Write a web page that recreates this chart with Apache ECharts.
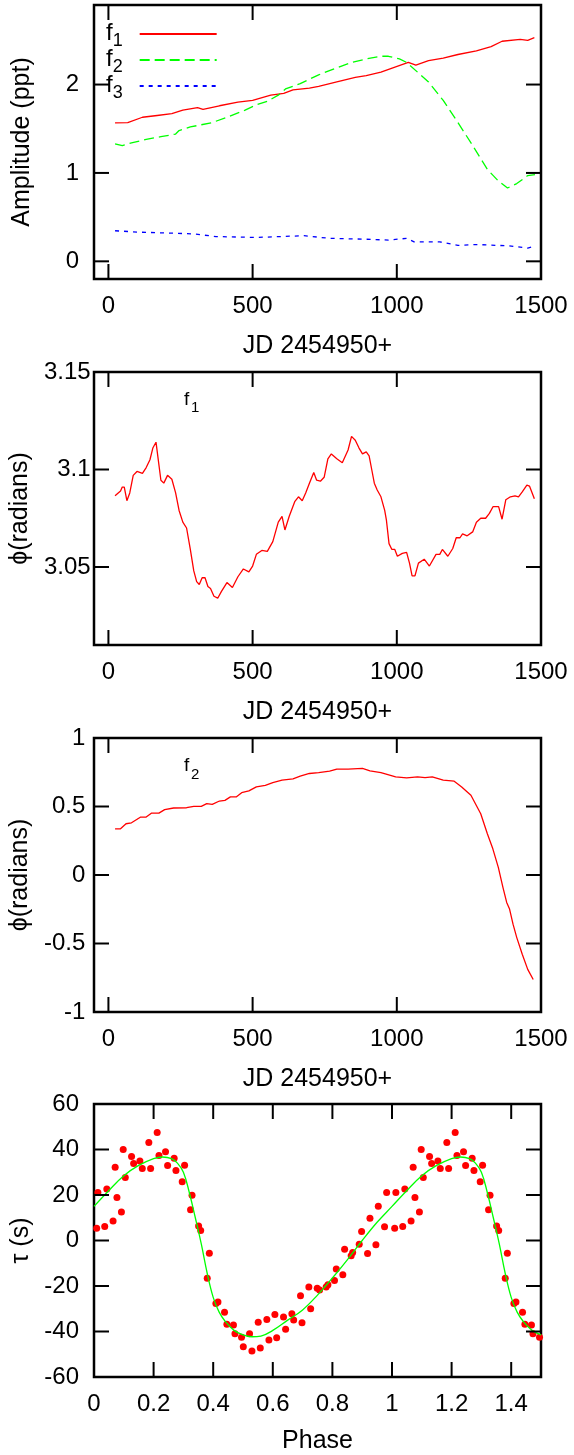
<!DOCTYPE html>
<html>
<head>
<meta charset="utf-8">
<script src="https://cdn.jsdelivr.net/npm/echarts@6/dist/echarts.min.js"></script>
<style>
  html, body { margin: 0; padding: 0; background: #fff; }
  #chart { width: 574px; height: 1455px; }
</style>
</head>
<body>
<div id="chart"></div>
<script>
// 振幅 (ppt) vs JD 2454950+
var ampF1 = [[23,1.566],[67,1.57],[118,1.63],[169,1.65],[220,1.67],[258,1.71],[309,1.74],[328,1.72],[385,1.76],[449,1.80],[500,1.82],[563,1.88],[608,1.90],[640,1.94],[697,1.96],[729,1.98],[792,2.03],[856,2.08],[894,2.10],[945,2.14],[996,2.20],[1040,2.25],[1066,2.22],[1110,2.27],[1161,2.30],[1212,2.34],[1276,2.38],[1327,2.43],[1365,2.49],[1428,2.51],[1454,2.50],[1477,2.53]];
var ampF2 = [[23,1.33],[48,1.31],[80,1.34],[131,1.38],[182,1.41],[233,1.44],[245,1.48],[284,1.52],[360,1.57],[411,1.63],[474,1.71],[513,1.77],[551,1.81],[589,1.88],[614,1.95],[665,2.01],[729,2.11],[792,2.19],[843,2.25],[894,2.29],[945,2.32],[971,2.32],[1009,2.29],[1034,2.25],[1072,2.14],[1110,2.03],[1161,1.82],[1212,1.57],[1263,1.31],[1314,1.04],[1352,0.91],[1384,0.83],[1416,0.88],[1454,0.97],[1479,0.98]];
var ampF3 = [[23,0.346],[106,0.33],[207,0.32],[296,0.31],[373,0.28],[513,0.27],[678,0.29],[767,0.26],[894,0.25],[971,0.24],[1034,0.26],[1060,0.22],[1149,0.22],[1212,0.18],[1276,0.19],[1390,0.175],[1454,0.15],[1479,0.17]];

// f1 相位 (radians)
var phaseF1 = [[23,3.0865],[42,3.089],[48,3.091],[55,3.091],[64,3.084],[74,3.088],[86,3.097],[99,3.099],[118,3.098],[131,3.101],[144,3.105],[154,3.111],[165,3.114],[182,3.0945],[192,3.093],[205,3.097],[220,3.095],[233,3.088],[245,3.079],[258,3.073],[271,3.070],[284,3.059],[296,3.048],[306,3.0425],[315,3.041],[325,3.0445],[335,3.0445],[345,3.040],[354,3.039],[366,3.035],[379,3.034],[392,3.0375],[411,3.042],[430,3.0395],[449,3.045],[468,3.049],[487,3.0475],[500,3.0505],[513,3.0565],[532,3.0585],[551,3.058],[570,3.063],[589,3.073],[602,3.076],[612,3.069],[627,3.076],[646,3.0835],[659,3.086],[672,3.084],[684,3.088],[697,3.093],[712,3.0985],[722,3.0945],[735,3.094],[748,3.096],[761,3.1055],[773,3.108],[792,3.1055],[811,3.1035],[831,3.110],[843,3.117],[856,3.115],[869,3.111],[881,3.108],[894,3.109],[904,3.107],[913,3.100],[922,3.093],[932,3.0895],[945,3.086],[958,3.079],[964,3.074],[973,3.062],[983,3.059],[993,3.059],[1002,3.0555],[1019,3.057],[1034,3.0575],[1044,3.052],[1053,3.0455],[1063,3.0455],[1075,3.052],[1095,3.054],[1113,3.0505],[1136,3.0565],[1149,3.0565],[1158,3.059],[1177,3.0555],[1194,3.0595],[1206,3.065],[1219,3.065],[1228,3.067],[1244,3.066],[1263,3.068],[1276,3.073],[1291,3.075],[1308,3.075],[1321,3.0775],[1334,3.081],[1353,3.081],[1365,3.0745],[1378,3.0845],[1394,3.086],[1410,3.0865],[1422,3.086],[1435,3.0885],[1451,3.092],[1460,3.0915],[1477,3.085]];

// f2 相位 (radians)
var phaseF2 = [[23,0.337],[42,0.337],[61,0.374],[80,0.381],[112,0.423],[131,0.423],[150,0.452],[175,0.452],[195,0.477],[226,0.489],[271,0.491],[296,0.501],[322,0.501],[341,0.521],[360,0.516],[385,0.540],[404,0.545],[423,0.570],[443,0.570],[462,0.601],[487,0.614],[513,0.643],[544,0.655],[570,0.675],[602,0.692],[640,0.702],[665,0.721],[697,0.741],[729,0.748],[767,0.758],[792,0.773],[831,0.773],[881,0.778],[907,0.760],[945,0.748],[996,0.716],[1034,0.709],[1072,0.716],[1098,0.711],[1123,0.716],[1161,0.692],[1199,0.685],[1225,0.643],[1257,0.582],[1291,0.447],[1314,0.301],[1333,0.191],[1352,0.056],[1368,-0.090],[1381,-0.200],[1391,-0.249],[1403,-0.359],[1416,-0.457],[1435,-0.579],[1454,-0.689],[1473,-0.763]];

// O-C 时间延迟 tau (s) vs 相位 (一个周期)
var tauPhase = [0.009,0.013,0.036,0.043,0.064,0.071,0.077,0.092,0.098,0.105,0.126,0.133,0.154,0.162,0.184,0.19,0.212,0.218,0.24,0.247,0.269,0.275,0.296,0.304,0.324,0.329,0.351,0.358,0.38,0.387,0.409,0.416,0.438,0.446,0.468,0.473,0.495,0.501,0.522,0.53,0.551,0.558,0.58,0.587,0.607,0.613,0.636,0.643,0.664,0.67,0.693,0.698,0.721,0.727,0.749,0.757,0.779,0.785,0.807,0.813,0.835,0.841,0.863,0.868,0.89,0.898,0.918,0.926,0.946,0.954,0.975,0.982];
var tauVal = [5.4,21.1,6.2,22.6,8.6,32.2,18.9,12.5,40,27.7,36.9,33.8,34.9,31.6,43.1,31.6,47.5,37.4,39,33,36.2,30.8,25.8,33.1,13.5,19.9,6.4,4.4,-16.6,-5.6,-27.7,-27,-31.5,-36.8,-37.1,-41,-42.5,-46.7,-41,-48.6,-35.9,-47.3,-34.7,-43.7,-32.5,-42.8,-33.6,-39,-32.2,-34.9,-24.3,-36.2,-20.4,-30,-21,-21.8,-20.4,-19.5,-17.6,-12.5,-15.1,-3.8,-6.7,-5.3,-1.6,4,-5.7,9.8,-1.9,15.1,6,21.1];
// 拟合曲线 (一个周期)
var fitPhase = [0,0.05,0.1,0.15,0.2,0.23,0.26,0.28,0.30,0.32,0.34,0.36,0.38,0.40,0.42,0.44,0.47,0.50,0.53,0.56,0.60,0.65,0.70,0.75,0.80,0.85,0.90,0.95,1.0];
var fitVal = [15,22,28.5,33,36,36.7,36,34,30,21,10,-1.5,-14.5,-25,-31.5,-35.5,-39.5,-41.5,-42.3,-42,-39.5,-35,-30.5,-24,-16.5,-8.5,0,8,15];

// 刻度
var jdTicks = [0, 500, 1000, 1500];
var ampTicks = [0, 1, 2];
var ph1Ticks = [3.05, 3.1, 3.15];
var ph2Ticks = [-1, -0.5, 0, 0.5, 1];
var phaseTicks = [0, 0.2, 0.4, 0.6, 0.8, 1, 1.2, 1.4];
var tauTicks = [-60, -40, -20, 0, 20, 40, 60];

var font = '"Liberation Sans", Arial, Helvetica, sans-serif';
var TICK_LEN = 15;

// 相位折叠: 第二个周期 (phase + 1)
function fold(ph, val) {
    var out = [];
    for (var i = 0; i < ph.length; i++) out.push([ph[i], val[i]]);
    for (var j = 0; j < ph.length; j++) {
        if (ph[j] > 0 && ph[j] <= 0.5) out.push([ph[j] + 1, val[j]]);
    }
    return out;
}

var plain = function (v) { return String(v); };
var grids = [], xs = [], ys = [];

function labelOf(ticks) {
    return {customValues: ticks, formatter: plain, margin: 15, fontSize: 24, color: '#000', fontFamily: font};
}
// 隐藏轴, 范围不含 0, 让标签轴贴在边框上
function blankAxis(g) {
    return {type: 'value', gridIndex: g, min: 1, max: 2, axisLine: {show: false},
            axisTick: {show: false}, axisLabel: {show: false}, splitLine: {show: false}};
}

// 一个面板: 数据 grid + x 标签 grid + y 标签 grid (同一个矩形)
function panel(top, height, xr, yr, xTicks, yTicks, xName, xGap, yName, yGap) {
    var rect = {left: 94, width: 447, top: top, height: height};
    var gD = grids.push(Object.assign({show: true, borderColor: '#000', borderWidth: 2.5, backgroundColor: 'transparent'}, rect)) - 1;
    var xD = xs.push({type: 'value', gridIndex: gD, min: xr[0], max: xr[1], show: false}) - 1;
    var yD = ys.push({type: 'value', gridIndex: gD, min: yr[0], max: yr[1], show: false}) - 1;

    var gX = grids.push(Object.assign({show: false}, rect)) - 1;
    xs.push({
        type: 'value', gridIndex: gX, min: xr[0], max: xr[1], position: 'bottom',
        name: xName, nameLocation: 'middle', nameGap: xGap,
        nameTextStyle: {fontSize: 25, color: '#000', fontFamily: font},
        axisLine: {show: false}, splitLine: {show: false}, axisTick: {show: false},
        axisLabel: labelOf(xTicks)
    });
    ys.push(blankAxis(gX));

    var gY = grids.push(Object.assign({show: false}, rect)) - 1;
    ys.push({
        type: 'value', gridIndex: gY, min: yr[0], max: yr[1], position: 'left',
        name: yName, nameLocation: 'middle', nameGap: yGap, nameRotate: 90,
        nameTextStyle: {fontSize: 25, color: '#000', fontFamily: font},
        axisLine: {show: false}, splitLine: {show: false}, axisTick: {show: false},
        axisLabel: labelOf(yTicks)
    });
    xs.push(blankAxis(gY));

    return {x: xD, y: yD, xTicks: xTicks, yTicks: yTicks};
}

var p1 = panel(5, 274, [-50, 1500], [-0.2, 2.9], jdTicks, ampTicks, 'JD 2454950+', 55, 'Amplitude (ppt)', 59);
var p2 = panel(372, 273, [-50, 1500], [3.01, 3.15], jdTicks, ph1Ticks, 'JD 2454950+', 55, 'ϕ(radians)', 64);
var p3 = panel(738, 274, [-50, 1500], [-1, 1], jdTicks, ph2Ticks, 'JD 2454950+', 55, 'ϕ(radians)', 59);
var p4 = panel(1104, 273, [0, 1.5], [-60, 60], phaseTicks, tauTicks, 'Phase', 52, 'τ (s)', 57);

// 四边朝内的刻度线: 用数据轴的 api.coord 换算位置
function tickSeries(p) {
    var data = [];
    p.xTicks.forEach(function (v) { data.push([v, 0]); data.push([v, 1]); });
    p.yTicks.forEach(function (v) { data.push([v, 2]); data.push([v, 3]); });
    return {
        type: 'custom', xAxisIndex: p.x, yAxisIndex: p.y, data: data,
        silent: true, animation: false, z: 10, clip: false,
        renderItem: function (params, api) {
            var cs = params.coordSys;
            var v = api.value(0), side = api.value(1);
            var left = cs.x, right = cs.x + cs.width, top = cs.y, bottom = cs.y + cs.height;
            var s;
            if (side < 2) {
                var px = api.coord([v, 0])[0];
                s = side === 0 ? {x1: px, y1: bottom, x2: px, y2: bottom - TICK_LEN}
                               : {x1: px, y1: top, x2: px, y2: top + TICK_LEN};
            } else {
                var py = api.coord([0, v])[1];
                s = side === 2 ? {x1: left, y1: py, x2: left + TICK_LEN, y2: py}
                               : {x1: right, y1: py, x2: right - TICK_LEN, y2: py};
            }
            return {type: 'line', shape: s, style: {stroke: '#000', lineWidth: 2}};
        }
    };
}

function line(name, p, data, color, dash, z) {
    return {
        name: name, type: 'line', xAxisIndex: p.x, yAxisIndex: p.y,
        data: data, symbol: 'none', showSymbol: false, animation: false, z: z || 2,
        lineStyle: {color: color, width: 1.3, type: dash || 'solid'},
        itemStyle: {color: color}
    };
}

// 下标: 用 padding 把数字往下推
var subRich = {
    f: {fontSize: 24, lineHeight: 26, verticalAlign: 'top', fontFamily: font, color: '#000'},
    s: {fontSize: 18, lineHeight: 18, padding: [14, 12, 0, 0], fontFamily: font, color: '#000'}
};

function note(txt, size, left, top) {
    return {text: txt, left: left, top: top, padding: 0,
            textStyle: {fontSize: size, fontWeight: 'normal', fontFamily: font, color: '#000'}};
}

var chart = echarts.init(document.getElementById('chart'));
var option = {
    animation: false,
    backgroundColor: '#fff',
    title: [note('f', 19, 184, 390), note('1', 15, 191, 400), note('f', 19, 184, 756), note('2', 15, 191, 767)],
    grid: grids,
    xAxis: xs,
    yAxis: ys,
    legend: {
        data: ['f1', 'f2', 'f3'],
        orient: 'vertical', left: 106, top: 18, padding: 0,
        align: 'right', itemWidth: 77, itemHeight: 10, itemGap: -6,
        selectedMode: false,
        itemStyle: {opacity: 0},
        formatter: function (n) { return '{f|f}{s|' + n.slice(1) + '}'; },
        textStyle: {rich: subRich}
    },
    series: [
        line('f1', p1, ampF1, '#ff0000'),
        line('f2', p1, ampF2, '#00ff00', [10, 5]),
        line('f3', p1, ampF3, '#0000ff', [4, 5]),
        line('phi1', p2, phaseF1, '#ff0000'),
        line('phi2', p3, phaseF2, '#ff0000'),
        {
            name: 'tau', type: 'scatter', xAxisIndex: p4.x, yAxisIndex: p4.y,
            data: fold(tauPhase, tauVal), symbolSize: 7, animation: false,
            itemStyle: {color: '#ff0000', opacity: 1}
        },
        Object.assign(line('fit', p4, fold(fitPhase, fitVal).sort(function (a, b) { return a[0] - b[0]; }), '#00ff00', 'solid', 5), {smooth: 0.4}),
        tickSeries(p1), tickSeries(p2), tickSeries(p3), tickSeries(p4)
    ]
};
chart.setOption(option);
window.addEventListener('resize', chart.resize);
</script>
</body>
</html>
